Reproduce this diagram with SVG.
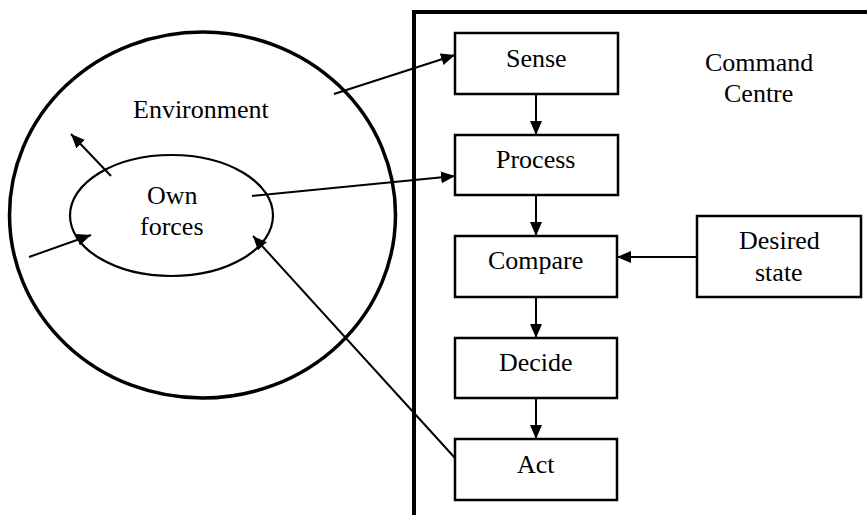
<svg xmlns="http://www.w3.org/2000/svg" width="867" height="515" viewBox="0 0 867 515">
<defs>
<marker id="ah" markerUnits="userSpaceOnUse" markerWidth="14" markerHeight="12" refX="14" refY="6" orient="auto">
<path d="M0,0 L14,6 L0,12 z" fill="#000"/>
</marker>
</defs>
<rect width="867" height="515" fill="#fff"/>
<g id="environment">
<ellipse cx="202.5" cy="215" rx="193" ry="183" fill="none" stroke="#000" stroke-width="3.5"/>
<text x="133" y="118" font-family="Liberation Serif" font-size="26">Environment</text>
</g>
<g id="own-forces">
<ellipse cx="171.5" cy="215.5" rx="101.5" ry="60.5" fill="none" stroke="#000" stroke-width="2.2"/>
<text x="147" y="204" font-family="Liberation Serif" font-size="26">Own</text>
<text x="140" y="235" font-family="Liberation Serif" font-size="26">forces</text>
</g>
<g id="command-centre">
<path d="M414,520 V12 H872" fill="none" stroke="#000" stroke-width="4"/>
<text x="705" y="71" font-family="Liberation Serif" font-size="26">Command</text>
<text x="724" y="102" font-family="Liberation Serif" font-size="26">Centre</text>
</g>
<g fill="#fff" stroke="#000" stroke-width="2.5">
<g id="sense"><rect x="455" y="33" width="163" height="61"/><text x="506" y="67" fill="#000" stroke="none" font-family="Liberation Serif" font-size="26">Sense</text></g>
<g id="process"><rect x="455" y="135" width="163" height="60"/><text x="496" y="168" fill="#000" stroke="none" font-family="Liberation Serif" font-size="26">Process</text></g>
<g id="compare"><rect x="455" y="236" width="162" height="61"/><text x="488" y="269" fill="#000" stroke="none" font-family="Liberation Serif" font-size="26">Compare</text></g>
<g id="decide"><rect x="455" y="338" width="162" height="60"/><text x="499" y="371" fill="#000" stroke="none" font-family="Liberation Serif" font-size="26">Decide</text></g>
<g id="act"><rect x="455" y="439" width="162" height="61"/><text x="517" y="473" fill="#000" stroke="none" font-family="Liberation Serif" font-size="26">Act</text></g>
<g id="desired-state"><rect x="697" y="216" width="164" height="81"/><text x="739" y="249" fill="#000" stroke="none" font-family="Liberation Serif" font-size="26">Desired</text><text x="755" y="281" fill="#000" stroke="none" font-family="Liberation Serif" font-size="26">state</text></g>
</g>
<g id="connectors" stroke="#000" stroke-width="2" fill="none">
<line x1="334" y1="94" x2="455" y2="55" marker-end="url(#ah)"/>
<line x1="252" y1="196" x2="455" y2="176" marker-end="url(#ah)"/>
<line x1="455" y1="458" x2="253" y2="236" marker-end="url(#ah)"/>
<line x1="111" y1="176" x2="71" y2="134" marker-end="url(#ah)"/>
<line x1="29" y1="257" x2="91" y2="235" marker-end="url(#ah)"/>
<line x1="536" y1="94" x2="536" y2="135" marker-end="url(#ah)"/>
<line x1="536" y1="195" x2="536" y2="236" marker-end="url(#ah)"/>
<line x1="536" y1="297" x2="536" y2="338" marker-end="url(#ah)"/>
<line x1="536" y1="398" x2="536" y2="439" marker-end="url(#ah)"/>
<line x1="697" y1="257" x2="617" y2="257" marker-end="url(#ah)"/>
</g>
</svg>
